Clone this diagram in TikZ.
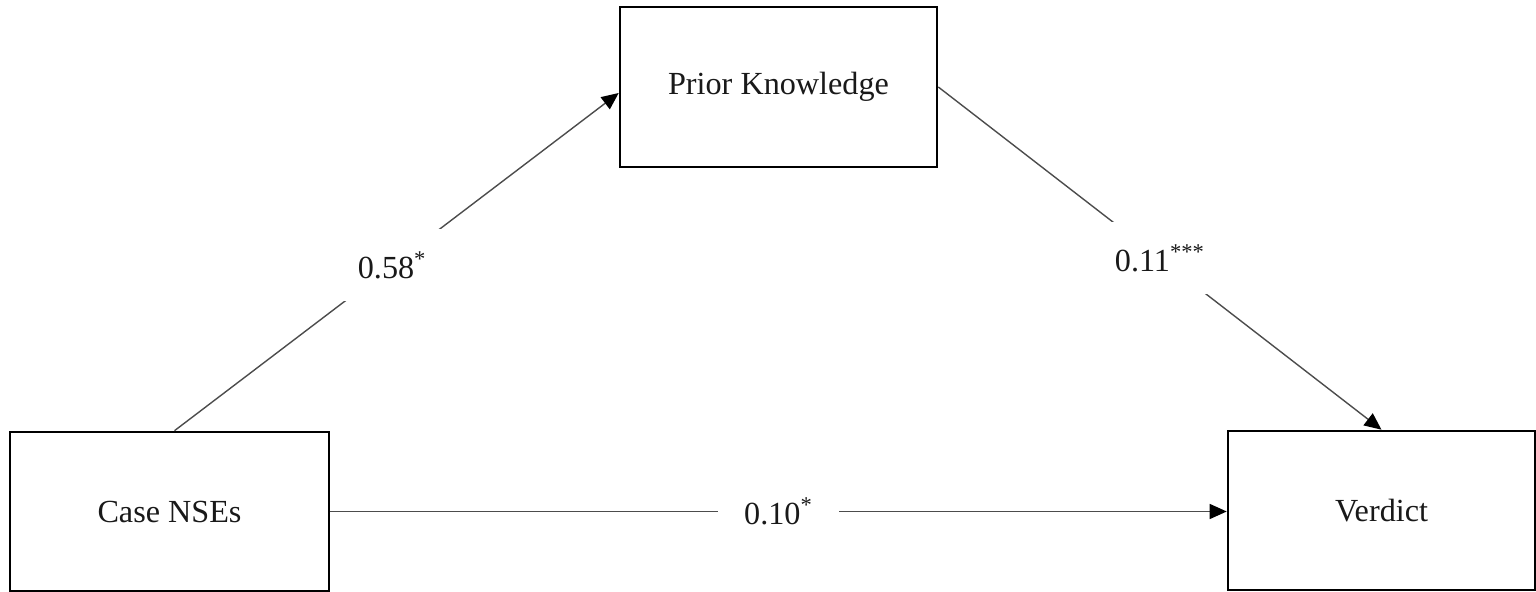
\documentclass[tikz,border=0pt]{standalone}
\usepackage{fontspec}
\setmainfont{Liberation Serif}
\usetikzlibrary{arrows.meta}
\begin{document}
\begin{tikzpicture}[x=0.5pt,y=-0.5pt,
  box/.style={draw=black, line width=1.3pt, rectangle, fill=white,
    font=\fontsize{16.1}{19}\selectfont, text=black!90, inner sep=0pt},
  conn/.style={draw=black!70, line width=0.7pt,
    -{Triangle[length=8.5pt,width=7.5pt,color=black]}},
  coef/.style={fill=white, font=\fontsize{16.1}{19}\selectfont, text=black!90,
    inner xsep=13pt, inner ysep=11pt}]
\useasboundingbox (0,0) rectangle (1536,592);
\node[box, minimum width=158.5pt, minimum height=80pt] (pk) at (778.5,87) {Prior Knowledge};
\node[box, minimum width=159.5pt, minimum height=79.5pt] (case) at (169.5,511.5) {Case NSEs};
\node[box, minimum width=153.5pt, minimum height=79.5pt] (verdict) at (1381.5,510.5) {Verdict};
\draw[conn] ([xshift=2.5pt]case.north) -- node[coef, pos=0.49] {0.58\textsuperscript{*}} ([yshift=-3pt]pk.west);
\draw[conn] (pk.east) -- node[coef, pos=0.5] {0.11\textsuperscript{***}} (verdict.north);
\draw[conn] (case.east) -- node[coef, pos=0.5] {0.10\textsuperscript{*}} (case.east -| verdict.west);
\end{tikzpicture}
\end{document}
